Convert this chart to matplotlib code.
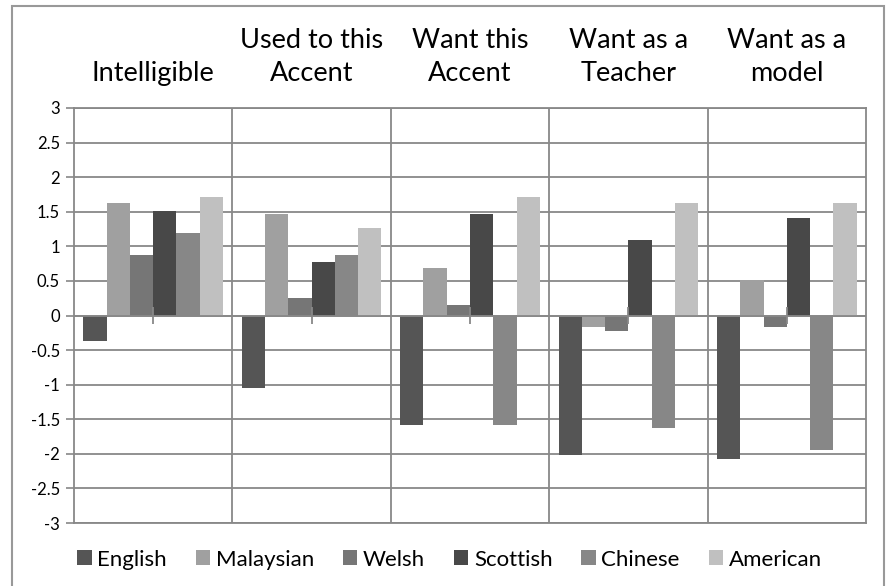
import numpy as np
import matplotlib
matplotlib.use('Agg')
import matplotlib.pyplot as plt
from matplotlib.patches import Rectangle
from matplotlib.ticker import FormatStrFormatter

plt.rcParams['font.family'] = ['Lato', 'DejaVu Sans']

categories = ['Intelligible', 'Used to this\nAccent', 'Want this\nAccent', 'Want as a\nTeacher', 'Want as a\nmodel']
series = ['English', 'Malaysian', 'Welsh', 'Scottish', 'Chinese', 'American']
english = [-0.37, -1.05, -1.59, -2.01, -2.07]
malaysian = [1.62, 1.47, 0.68, -0.17, 0.51]
welsh = [0.88, 0.26, 0.15, -0.23, -0.17]
scottish = [1.51, 0.78, 1.47, 1.09, 1.41]
chinese = [1.19, 0.88, -1.59, -1.63, -1.94]
american = [1.72, 1.26, 1.72, 1.62, 1.62]
colors = ['#555555', '#a0a0a0', '#767676', '#484848', '#878787', '#c0c0c0']
values = [english, malaysian, welsh, scottish, chinese, american]

grid_c = '#888888'

fig = plt.figure(figsize=(8.9, 5.86), dpi=100)
ax = fig.add_axes([74/890, 63/586, 792/890, 415/586])

x = np.arange(len(categories))
w = 0.147
for i, (name, vals, c) in enumerate(zip(series, values, colors)):
    ax.bar(x + (i - 2.5) * w, vals, w, color=c, label=name, zorder=3)

ax.set_xlim(-0.5, len(categories) - 0.5)
ax.set_ylim(-3, 3)
ax.set_yticks(np.arange(-3, 3.01, 0.5))
ax.yaxis.set_major_formatter(FormatStrFormatter('%g'))
ax.tick_params(axis='y', length=6, width=1.2, color=grid_c, labelsize=12, pad=4)
ax.set_xticks([])
ax.grid(axis='y', color=grid_c, linewidth=1.3, zorder=0)
for b in np.arange(0.5, len(categories) - 0.5):
    ax.axvline(b, color=grid_c, linewidth=1.3, zorder=1)
ax.axhline(0, color=grid_c, linewidth=1.3, zorder=4)
ax.vlines(x, -0.12, 0.12, color=grid_c, linewidth=1.3, zorder=4)
for s in ax.spines.values():
    s.set_color(grid_c)
    s.set_linewidth(1.3)

for i, cat in enumerate(categories):
    ax.annotate(cat, xy=(i, 1), xycoords=('data', 'axes fraction'),
                xytext=(0, 22), textcoords='offset pixels',
                ha='center', va='bottom', fontsize=19.5, linespacing=1.42)

fig.legend(loc='center', bbox_to_anchor=(0.505, 0.045), ncol=6, frameon=False,
           fontsize=16, handlelength=0.65, handleheight=0.65, handletextpad=0.25,
           columnspacing=1.3)

fig.patches.append(Rectangle((12/890, -0.01), 872/890, 1.0, transform=fig.transFigure,
                             fill=False, edgecolor='#999999', linewidth=1.5))

fig.savefig('out.png', dpi=100)
